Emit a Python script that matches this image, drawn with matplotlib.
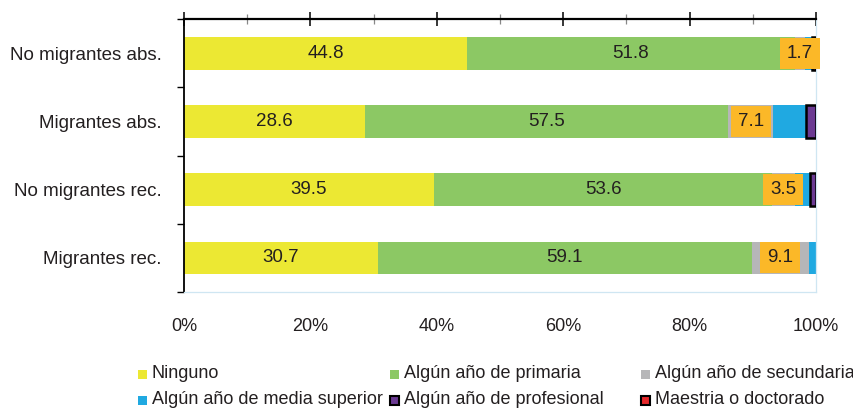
import numpy as np
import matplotlib.pyplot as plt
from matplotlib.patches import Rectangle

plt.rcParams['font.family'] = ['Liberation Sans', 'DejaVu Sans']

# Datos (porcentajes)
categorias = ["No migrantes abs.", "Migrantes abs.", "No migrantes rec.", "Migrantes rec."]
ninguno = [44.8, 28.6, 39.5, 30.7]
primaria = [51.8, 57.5, 53.6, 59.1]
secundaria = [1.7, 7.1, 3.5, 9.1]
media_sup = [1.0, 5.2, 2.4, 1.1]
profesional = [0.7, 1.6, 1.0, 0.0]
maestria = [0.0, 0.0, 0.0, 0.0]

nombres = ["Ninguno", "Algún año de primaria", "Algún año de secundaria",
           "Algún año de media superior", "Algún año de profesional", "Maestria o doctorado"]
colores = ["#ECE833", "#8CC864", "#B6B6B8", "#20A9E1", "#6B3A93", "#E5282B"]
bordes = [None, None, None, None, "black", "black"]
texto = "#231f20"

series = [ninguno, primaria, secundaria, media_sup, profesional, maestria]

fig = plt.figure(figsize=(8.54, 4.08), dpi=100)
ax = fig.add_axes([0.2155, 0.2843, 0.74, 0.6691])

y = np.arange(len(categorias))
izq = np.zeros(len(categorias))
for i, vals in enumerate(series):
    vals = np.array(vals)
    for j in range(len(vals)):
        if vals[j] <= 0:
            continue
        if bordes[i]:
            ax.barh(y[j], vals[j], left=izq[j], height=0.48, color=colores[i],
                    edgecolor=bordes[i], linewidth=1.8, zorder=3)
        else:
            ax.barh(y[j], vals[j], left=izq[j], height=0.48, color=colores[i],
                    linewidth=0, zorder=2)
        centro = izq[j] + vals[j] / 2
        if i in (0, 1):
            ax.text(centro, y[j], "%.1f" % vals[j], ha='center', va='center',
                    fontsize=13.5, color=texto, zorder=4)
        elif i == 2:
            # etiqueta con recuadro naranja
            ax.text(centro, y[j], "%.1f" % vals[j], ha='center', va='center',
                    fontsize=13.5, color=texto, zorder=5,
                    bbox=dict(boxstyle='square,pad=0.37', fc="#FBB828", ec='none'))
    izq += vals

ax.set_xlim(0, 100)
ax.set_ylim(3.5, -0.5)

# Ejes
ax.set_xticks(np.arange(0, 101, 20))
ax.set_xticklabels(["%d%%" % v for v in range(0, 101, 20)], fontsize=13, color=texto)
ax.set_xticks(np.arange(10, 100, 20), minor=True)
ax.tick_params(axis='x', which='major', top=True, bottom=False, labeltop=False,
               labelbottom=True, direction='inout', length=10, width=1.1,
               color='black', pad=13.5)
ax.tick_params(axis='x', which='minor', top=True, bottom=False,
               direction='inout', length=7, width=0.9, color='#888888')

ax.set_yticks(y)
ax.set_yticklabels(categorias, fontsize=13.5, color=texto)
ax.set_yticks(np.arange(-0.5, 4, 1), minor=True)
ax.tick_params(axis='y', which='major', length=0, pad=16)
ax.tick_params(axis='y', which='minor', length=5, width=1.0, direction='out', color='black')

ax.spines['top'].set_linewidth(1.6)
ax.spines['left'].set_linewidth(1.3)
ax.spines['right'].set_color('#CFE6F2')
ax.spines['bottom'].set_color('#CFE6F2')
ax.spines['right'].set_linewidth(0.9)
ax.spines['bottom'].set_linewidth(0.9)

# Leyenda manual (3 columnas, 2 filas)
col_x = [152 / 854, 404 / 854, 655 / 854]
fila_y = [1 - 374 / 408, 1 - 400 / 408]
for k, nombre in enumerate(nombres):
    fx = col_x[k % 3]
    fy = fila_y[k // 3]
    ec = bordes[k] if bordes[k] else 'none'
    fig.patches.append(Rectangle((fx - 14 / 854, fy - 4.5 / 408), 9 / 854, 9 / 408,
                                 transform=fig.transFigure, facecolor=colores[k],
                                 edgecolor=ec, linewidth=1.5))
    fig.text(fx, fy, nombre, ha='left', va='center', fontsize=13, color=texto)

fig.savefig("out.png", dpi=100)
